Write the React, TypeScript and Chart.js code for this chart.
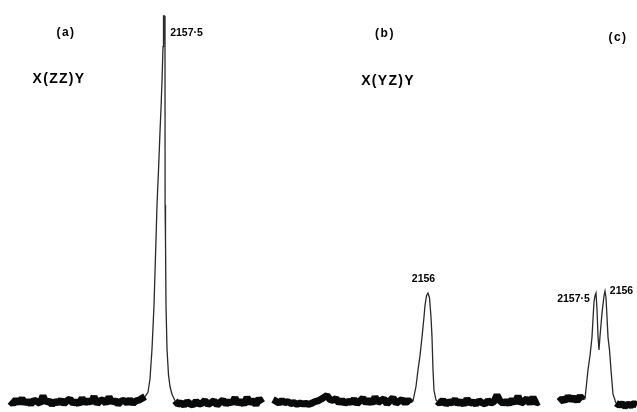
import { useEffect, useRef, useState } from 'react';
import { Chart, registerables } from 'chart.js';

Chart.register(...registerables);

// ---- data (x: recorder channel, y: relative intensity) ----
const noiseStep = 3;

const baseA1Start = 10;
const baseA1 = [
  0.2, -0.5, 0.6, -0.3, 0.9, -0.4, 0.3, -0.6, 0.5, 0.1,
  -0.4, 1.6, -0.2, 0.4, -0.7, 0.2, -0.3, 0.5, -0.5, 0.3,
  0.8, -0.4, 0.2, -0.6, 1.0, -0.3, 0.4, -0.2, 1.4, -0.5,
  0.3, 0.6, -0.4, 1.3, -0.2, 0.5, -0.6, 0.2, 0.4, -0.3,
  0.6, -0.4, 0.3, 0.5, 0.9, 1.4,
];
const baseA2Start = 175;
const baseA2 = [
  0.3, -0.6, -0.2, -0.9, 0.1, -0.5, -0.8, 0.2, -0.6, -0.3,
  0.4, -0.7, -0.2, 0.3, -0.8, -0.1, 0.5, -0.6, 0.2, -0.4,
  1.1, -0.5, 0.3, -0.7, 1.2, -0.4, 0.6, -0.8, 0.9, -0.3,
];
const baseB1Start = 273;
const baseB1 = [
  0.6, 0.2, -0.3, 0.4, -0.2, 0.1, -0.4, -0.2, -0.6, -0.3,
  -0.5, -0.4, -0.6, -0.3, 0.1, 0.3, 0.7, 1.2, 1.7, 0.6,
  0.4, 0.9, -0.3, 0.5, -0.4, 0.2, -0.2, 0.7, -0.5, 0.3,
  1.0, -0.3, 0.6, -0.4, 1.3, -0.2, 0.4, 0.8, -0.5, 0.3,
  1.1, -0.4, 0.2, 0.6, -0.3, 0.5, -0.2,
];
const baseB2Start = 437;
const baseB2 = [
  0.2, -0.4, 0.5, -0.6, 0.1, -0.3, 0.6, -0.5, 0.2, -0.7,
  0.8, -0.4, 0.1, -0.6, 0.3, -0.2, -0.5, 0.4, -0.3, 0.1,
  1.8, 0.3, -0.4, 0.2, -0.5, 0.6, -0.3, 1.5, -0.4, 0.2,
  0.9, -0.5, 1.2, -0.3, 0.1,
];
const baseC1Start = 559;
const baseC1 = [0.1, 0.8, 0.3, 1.4, 0.5, 1.2, 0.2, 1.5, 0.6];
const baseC2Start = 616;
const baseC2 = [-0.3, -0.8, -0.5, -1.1, -0.6, -0.9, -0.4, -0.8];

// (a) X(ZZ)Y band at 2157.5
const peakAX = [145, 148, 150, 152, 154, 156, 157, 158.5, 160, 161, 162, 163, 163.5, 164.3, 165, 165.1, 165.5, 166, 167, 168.5, 170, 172, 175];
const peakAY = [1.4, 2.5, 6, 13.7, 25, 42, 51, 60, 70, 76, 83, 92, 100, 100, 92, 51, 42, 25, 13.7, 7, 4, 2, 0.3];
// (b) X(YZ)Y band at 2156
const peakBX = [411, 413, 416, 418, 420, 422, 424, 425, 426.5, 428, 429.5, 431, 432, 433, 434, 436, 437];
const peakBY = [-0.2, 0.3, 4, 8.3, 12, 16.8, 22, 25, 27.5, 28.2, 27, 22, 16.8, 8.3, 3, 0.5, 0.2];
// (c) doublet 2157.5 / 2156
const peakCX = [583, 585, 588, 590, 592, 594, 595, 596, 597, 598, 599, 600, 602, 604, 605, 606, 607, 608, 609.5, 611, 613, 616];
const peakCY = [0.6, 0.8, 8.3, 12, 16.8, 26, 27.5, 28.2, 24, 17, 13.5, 17, 23, 27.5, 28.7, 27, 22, 16.8, 13.5, 8.3, 2, -0.3];

// text annotations anchored in data units
const labelTexts = ['(a)', 'X(ZZ)Y', '2157·5', '(b)', 'X(YZ)Y', '2156', '(c)', '2157·5', '2156'];
const labelX = [66, 59, 186.5, 385, 388, 423.5, 618, 573.5, 621.5];
const labelY = [95.9, 83.9, 95.7, 95.6, 83.4, 32.1, 94.6, 26.8, 29.0];
const labelKind = ['panel', 'geom', 'freq', 'panel', 'geom', 'freq', 'panel', 'freq', 'freq'];

const labelStyle: Record<string, { size: number; spacing: number }> = {
  panel: { size: 12, spacing: 1.5 },
  geom: { size: 14, spacing: 1.3 },
  freq: { size: 10.5, spacing: 0 },
};

function noise(start: number, vals: number[]) {
  return vals.map((v, i) => ({ x: start + i * noiseStep, y: v }));
}
function zip(xs: number[], ys: number[]) {
  return xs.map((x, i) => ({ x, y: ys[i] }));
}

export default function App() {
  const canvasRef = useRef<HTMLCanvasElement>(null);
  const [pos, setPos] = useState<{ left: number; top: number }[]>([]);

  useEffect(() => {
    const baseStyle = {
      borderColor: '#0a0a0a',
      borderWidth: 7,
      pointRadius: 0,
      borderJoinStyle: 'bevel' as const,
      borderCapStyle: 'butt' as const,
      tension: 0,
    };
    const peakStyle = {
      borderColor: '#2a2a2a',
      borderWidth: 1.3,
      pointRadius: 0,
      tension: 0,
    };
    const chart = new Chart(canvasRef.current!, {
      type: 'line',
      data: {
        datasets: [
          { ...baseStyle, data: noise(baseA1Start, baseA1) },
          { ...peakStyle, data: zip(peakAX, peakAY) },
          { ...baseStyle, data: noise(baseA2Start, baseA2) },
          { ...baseStyle, data: noise(baseB1Start, baseB1) },
          { ...peakStyle, data: zip(peakBX, peakBY) },
          { ...baseStyle, data: noise(baseB2Start, baseB2) },
          { ...baseStyle, data: noise(baseC1Start, baseC1) },
          { ...peakStyle, data: zip(peakCX, peakCY) },
          { ...baseStyle, data: noise(baseC2Start, baseC2) },
        ],
      },
      options: {
        animation: false,
        responsive: false,
        layout: { padding: 0 },
        parsing: false,
        plugins: { legend: { display: false }, tooltip: { enabled: false } },
        events: [],
        scales: {
          x: { type: 'linear', min: 0, max: 637, display: false },
          y: { type: 'linear', min: -2.6, max: 104.1, display: false },
        },
      },
    });
    const xs = chart.scales.x;
    const ys = chart.scales.y;
    setPos(labelX.map((x, i) => ({ left: xs.getPixelForValue(x), top: ys.getPixelForValue(labelY[i]) })));
    return () => chart.destroy();
  }, []);

  return (
    <div style={{ position: 'fixed', left: 0, top: 0, width: 637, height: 412, background: '#fff', overflow: 'hidden' }}>
      <canvas ref={canvasRef} width={637} height={412} style={{ display: 'block' }} />
      {pos.map((p, i) => {
        const st = labelStyle[labelKind[i]];
        return (
          <div
            key={i}
            style={{
              position: 'absolute',
              left: p.left,
              top: p.top,
              transform: 'translate(-50%, -50%)',
              fontFamily: '"Liberation Sans", Arial, sans-serif',
              fontWeight: 'bold',
              fontSize: st.size,
              letterSpacing: st.spacing,
              lineHeight: 1,
              whiteSpace: 'nowrap',
              color: '#000',
            }}
          >
            {labelTexts[i]}
          </div>
        );
      })}
    </div>
  );
}
